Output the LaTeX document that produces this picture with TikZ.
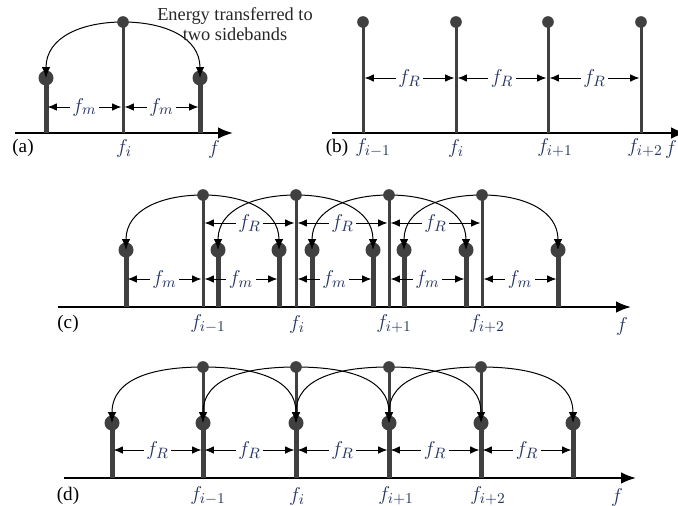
\documentclass[tikz,border=0pt]{standalone}
\usepackage{fontspec}
\setmainfont{Liberation Serif}
\usetikzlibrary{positioning}
\usetikzlibrary{arrows.meta}
\definecolor{stem}{RGB}{64,64,64}
\definecolor{lbl}{RGB}{38,52,98}
\tikzset{axis/.style = {line width=1.2pt, -{Latex[length=9pt,width=7pt]}}}
\tikzset{carrier/.style = {draw=stem, line width=1.8pt}}
\tikzset{side/.style = {draw=stem, line width=3pt}}
\tikzset{cdot/.style = {fill=stem, circle, inner sep=0, minimum size=7pt}}
\tikzset{sbdot/.style = {fill=stem, circle, inner sep=0, minimum size=9pt}}
\tikzset{xfer/.style = {line width=0.6pt, -{Latex[length=6.5pt,width=5pt]}}}
\tikzset{span/.style = {line width=0.5pt, shorten <=1pt, shorten >=1pt,
                        {Latex[length=5.5pt,width=4.5pt]}-{Latex[length=5.5pt,width=4.5pt]}}}
\tikzset{gap/.style = {text=lbl, fill=white, inner sep=1.5pt, font=\fontsize{12.5}{13}\selectfont}}
\tikzset{freq/.style = {text=lbl, inner sep=0, font=\fontsize{12.5}{13}\selectfont}}
\tikzset{panel/.style = {inner sep=0, font=\fontsize{11.5}{12}\selectfont}}

\begin{document}
\begin{tikzpicture}[x=0.6pt, y=-0.6pt, looseness=1.1]
      \useasboundingbox (0,0) rectangle (678,505);
      % (a) one carrier, two sidebands
      \coordinate (aAx0) at (15,133);
      \coordinate (aAx1) at (233,133);
      \coordinate (aCb) at (123,133);
      \coordinate (aCt) at (123,22);
      \coordinate (aLb) at (46,133);
      \coordinate (aRb) at (200,133);
      \coordinate (aDim) at (0,107);
      \draw[axis] (aAx0) -- (aAx1);
      \node[sbdot] (aL) at (46,78) {};
      \node[sbdot] (aR) at (200,78) {};
      \draw[side] (aLb) -- (aL.center);
      \draw[side] (aRb) -- (aR.center);
      \draw[carrier] (aCb) -- (aCt);
      \draw[xfer] (aCt) to[out=180, in=90] (aL.center);
      \draw[xfer] (aCt) to[out=0, in=90] (aR.center);
      \node[cdot] (aC) at (aCt) {};
      \draw[span] (aLb |- aDim) -- node[gap] {$f_m$} (aCb |- aDim);
      \draw[span] (aCb |- aDim) -- node[gap] {$f_m$} (aRb |- aDim);
      \node[panel] (aTag) at (23,148) {(a)};
      \node[freq] (aFi) at (124,148) {$f_i$};
      \node[freq] (aF) at (214,149) {$f$};
      \node[align=center, inner sep=0, text=black!85,
            font=\fontsize{11}{11.6}\selectfont] (note) at (235,24)
            {Energy transferred to\\two sidebands};

      % (b) carrier comb
      \coordinate (bAx0) at (332,133);
      \coordinate (bAx1) at (686,133);
      \coordinate (b1b) at (363,133);
      \coordinate (b2b) at (456,133);
      \coordinate (b3b) at (548,133);
      \coordinate (b4b) at (641,133);
      \coordinate (bDim) at (0,78);
      \draw[axis] (bAx0) -- (bAx1);
      \node[cdot] (b1) at (363,22) {};
      \node[cdot] (b2) at (456,22) {};
      \node[cdot] (b3) at (548,22) {};
      \node[cdot] (b4) at (641,22) {};
      \draw[carrier] (b1b) -- (b1.center);
      \draw[carrier] (b2b) -- (b2.center);
      \draw[carrier] (b3b) -- (b3.center);
      \draw[carrier] (b4b) -- (b4.center);
      \draw[span] (b1b |- bDim) -- node[gap] {$f_R$} (b2b |- bDim);
      \draw[span] (b2b |- bDim) -- node[gap] {$f_R$} (b3b |- bDim);
      \draw[span] (b3b |- bDim) -- node[gap] {$f_R$} (b4b |- bDim);
      \node[panel] (bTag) at (337,148) {(b)};
      \node[freq] (bFa) at (373,148) {$f_{i-1}$};
      \node[freq] (bFb) at (456,148) {$f_i$};
      \node[freq] (bFc) at (555,148) {$f_{i+1}$};
      \node[freq] (bFd) at (645,148) {$f_{i+2}$};
      \node[freq] (bF) at (671,149) {$f$};

      % (c) sidebands at f_m
      \coordinate (cAx0) at (58,307);
      \coordinate (cAx1) at (631,307);
      \coordinate (cDimR) at (0,223);
      \coordinate (cDimM) at (0,279);
      \coordinate (c1b) at (203,307);
      \coordinate (c2b) at (296,307);
      \coordinate (c3b) at (389,307);
      \coordinate (c4b) at (482,307);
      \coordinate (c1t) at (203,195);
      \coordinate (c2t) at (296,195);
      \coordinate (c3t) at (389,195);
      \coordinate (c4t) at (482,195);
      \draw[axis] (cAx0) -- (cAx1);
      \node[sbdot] (c1l) at (126,250) {};
      \node[sbdot] (c1r) at (279,250) {};
      \node[sbdot] (c2l) at (218,250) {};
      \node[sbdot] (c2r) at (373,250) {};
      \node[sbdot] (c3l) at (312,250) {};
      \node[sbdot] (c3r) at (466,250) {};
      \node[sbdot] (c4l) at (404,250) {};
      \node[sbdot] (c4r) at (558,250) {};
      \draw[side] (c1l |- c1b) -- (c1l.center);
      \draw[side] (c1r |- c1b) -- (c1r.center);
      \draw[side] (c2l |- c1b) -- (c2l.center);
      \draw[side] (c2r |- c1b) -- (c2r.center);
      \draw[side] (c3l |- c1b) -- (c3l.center);
      \draw[side] (c3r |- c1b) -- (c3r.center);
      \draw[side] (c4l |- c1b) -- (c4l.center);
      \draw[side] (c4r |- c1b) -- (c4r.center);
      \draw[carrier] (c1b) -- (c1t);
      \draw[carrier] (c2b) -- (c2t);
      \draw[carrier] (c3b) -- (c3t);
      \draw[carrier] (c4b) -- (c4t);
      \draw[xfer] (c1t) to[out=180, in=90] (c1l.center);
      \draw[xfer] (c1t) to[out=0, in=90] (c1r.center);
      \draw[xfer] (c2t) to[out=180, in=90] (c2l.center);
      \draw[xfer] (c2t) to[out=0, in=90] (c2r.center);
      \draw[xfer] (c3t) to[out=180, in=90] (c3l.center);
      \draw[xfer] (c3t) to[out=0, in=90] (c3r.center);
      \draw[xfer] (c4t) to[out=180, in=90] (c4l.center);
      \draw[xfer] (c4t) to[out=0, in=90] (c4r.center);
      \node[cdot] (c1) at (c1t) {};
      \node[cdot] (c2) at (c2t) {};
      \node[cdot] (c3) at (c3t) {};
      \node[cdot] (c4) at (c4t) {};
      \draw[span] (c1b |- cDimR) -- node[gap] {$f_R$} (c2b |- cDimR);
      \draw[span] (c2b |- cDimR) -- node[gap] {$f_R$} (c3b |- cDimR);
      \draw[span] (c3b |- cDimR) -- node[gap] {$f_R$} (c4b |- cDimR);
      \draw[span] (c1l |- cDimM) -- node[gap] {$f_m$} (c1b |- cDimM);
      \draw[span] (c1b |- cDimM) -- node[gap] {$f_m$} (c1r |- cDimM);
      \draw[span] (c2b |- cDimM) -- node[gap] {$f_m$} (c2r |- cDimM);
      \draw[span] (c3b |- cDimM) -- node[gap] {$f_m$} (c3r |- cDimM);
      \draw[span] (c4b |- cDimM) -- node[gap] {$f_m$} (c4r |- cDimM);
      \node[panel] (cTag) at (68,324) {(c)};
      \node[freq] (cFa) at (208,324) {$f_{i-1}$};
      \node[freq] (cFb) at (297,324) {$f_i$};
      \node[freq] (cFc) at (394,324) {$f_{i+1}$};
      \node[freq] (cFd) at (487,324) {$f_{i+2}$};
      \node[freq] (cF) at (622,326) {$f$};

      % (d) sidebands at f_R
      \coordinate (dAx0) at (64,478);
      \coordinate (dAx1) at (636,478);
      \coordinate (dDim) at (0,450);
      \coordinate (d1t) at (203,367);
      \coordinate (d2t) at (296,367);
      \coordinate (d3t) at (389,367);
      \coordinate (d4t) at (481,367);
      \draw[axis] (dAx0) -- (dAx1);
      \node[sbdot] (d0) at (112,423) {};
      \node[sbdot] (d1s) at (203,423) {};
      \node[sbdot] (d2s) at (296,423) {};
      \node[sbdot] (d3s) at (389,423) {};
      \node[sbdot] (d4s) at (481,423) {};
      \node[sbdot] (d5) at (573,423) {};
      \draw[side] (d0 |- dAx0) -- (d0.center);
      \draw[side] (d1s |- dAx0) -- (d1s.center);
      \draw[side] (d2s |- dAx0) -- (d2s.center);
      \draw[side] (d3s |- dAx0) -- (d3s.center);
      \draw[side] (d4s |- dAx0) -- (d4s.center);
      \draw[side] (d5 |- dAx0) -- (d5.center);
      \draw[carrier] (d1s.center) -- (d1t);
      \draw[carrier] (d2s.center) -- (d2t);
      \draw[carrier] (d3s.center) -- (d3t);
      \draw[carrier] (d4s.center) -- (d4t);
      \draw[xfer] (d1t) to[out=180, in=90] (d0.center);
      \draw[xfer] (d1t) to[out=0, in=90] (d2s.center);
      \draw[xfer] (d2t) to[out=180, in=90] (d1s.center);
      \draw[xfer] (d2t) to[out=0, in=90] (d3s.center);
      \draw[xfer] (d3t) to[out=180, in=90] (d2s.center);
      \draw[xfer] (d3t) to[out=0, in=90] (d4s.center);
      \draw[xfer] (d4t) to[out=180, in=90] (d3s.center);
      \draw[xfer] (d4t) to[out=0, in=90] (d5.center);
      \node[cdot] (d1) at (d1t) {};
      \node[cdot] (d2) at (d2t) {};
      \node[cdot] (d3) at (d3t) {};
      \node[cdot] (d4) at (d4t) {};
      \draw[span] (d0 |- dDim) -- node[gap] {$f_R$} (d1s |- dDim);
      \draw[span] (d1s |- dDim) -- node[gap] {$f_R$} (d2s |- dDim);
      \draw[span] (d2s |- dDim) -- node[gap] {$f_R$} (d3s |- dDim);
      \draw[span] (d3s |- dDim) -- node[gap] {$f_R$} (d4s |- dDim);
      \draw[span] (d4s |- dDim) -- node[gap] {$f_R$} (d5 |- dDim);
      \node[panel] (dTag) at (68,496) {(d)};
      \node[freq] (dFa) at (208,496) {$f_{i-1}$};
      \node[freq] (dFb) at (297,496) {$f_i$};
      \node[freq] (dFc) at (396,496) {$f_{i+1}$};
      \node[freq] (dFd) at (488,496) {$f_{i+2}$};
      \node[freq] (dF) at (617,497) {$f$};
\end{tikzpicture}
\end{document}
